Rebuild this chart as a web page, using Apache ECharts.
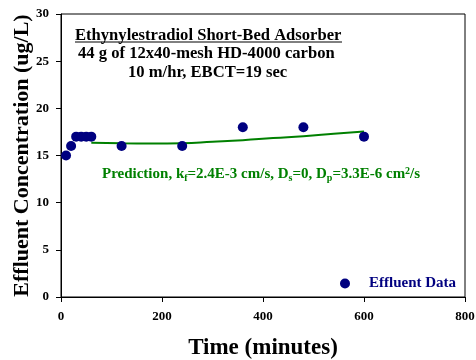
<!DOCTYPE html>
<html>
<head>
<meta charset="utf-8">
<script src="https://cdn.jsdelivr.net/npm/echarts@6/dist/echarts.min.js"></script>
<style>
  html, body { margin: 0; padding: 0; background: #fff; }
  #chart { width: 476px; height: 360px; }
</style>
</head>
<body>
<div id="chart"></div>
<script>
// 实测数据：时间(min) / 出水浓度(ug/L)
const effTime = [10, 20, 30, 40, 50, 60, 120, 240, 360, 480, 600];
const effConc = [15, 16, 17, 17, 17, 17, 16, 16, 18, 18, 17];

// 模型预测曲线
const predTime = [60, 120, 180, 240, 300, 360, 420, 480, 540, 600];
const predConc = [16.35, 16.3, 16.28, 16.3, 16.45, 16.62, 16.85, 17.05, 17.3, 17.55];

const xTicks = [0, 200, 400, 600, 800];
const yTicks = [0, 5, 10, 15, 20, 25, 30];

const FONT = 'Liberation Serif';
const NAVY = '#000080';
const GREEN = '#008000';

const chart = echarts.init(document.getElementById('chart'));

const axisCommon = {
  axisLine: { show: true, onZero: false, lineStyle: { color: '#000', width: 1 } },
  axisTick: { show: true, length: 5, lineStyle: { color: '#000' } },
  splitLine: { show: false },
  axisLabel: { color: '#000', fontFamily: FONT, fontWeight: 'bold', fontSize: 13 }
};

// 标题文字样式
const txt = (s, size, color) => ({
  text: s, fontFamily: FONT, fontWeight: 'bold', fontSize: size, fill: color || '#000'
});

chart.setOption({
  animation: false,
  grid: {
    left: 61, right: 11, top: 14, bottom: 63,
    outerBoundsMode: 'none', containLabel: false,
    show: true, borderColor: '#000', borderWidth: 1
  },
  xAxis: Object.assign({}, axisCommon, {
    type: 'value',
    min: xTicks[0], max: xTicks[xTicks.length - 1], interval: 200,
    name: 'Time (minutes)', nameLocation: 'middle', nameGap: 40,
    nameTextStyle: { color: '#000', fontFamily: FONT, fontWeight: 'bold', fontSize: 23 },
    axisLabel: Object.assign({}, axisCommon.axisLabel, { margin: 13 })
  }),
  yAxis: Object.assign({}, axisCommon, {
    type: 'value',
    min: yTicks[0], max: yTicks[yTicks.length - 1], interval: 5,
    name: 'Effluent Concentration (ug/L)', nameLocation: 'middle', nameGap: 28,
    nameMoveOverlap: false,
    nameTextStyle: { color: '#000', fontFamily: FONT, fontWeight: 'bold', fontSize: 22 },
    axisLabel: Object.assign({}, axisCommon.axisLabel, { margin: 12 })
  }),
  legend: {
    data: [{ name: 'Effluent Data', icon: 'circle' }],
    left: 340, top: 276, padding: 0, itemWidth: 10, itemHeight: 10, itemGap: 0,
    textStyle: { color: NAVY, fontFamily: FONT, fontWeight: 'bold', fontSize: 15, padding: [0, 0, 0, 14] }
  },
  series: [
    {
      name: 'Prediction', type: 'line',
      data: predTime.map((t, i) => [t, predConc[i]]),
      smooth: true, showSymbol: false,
      lineStyle: { color: GREEN, width: 2 }, itemStyle: { color: GREEN },
      z: 2
    },
    {
      name: 'Effluent Data', type: 'scatter',
      data: effTime.map((t, i) => [t, effConc[i]]),
      symbol: 'circle', symbolSize: 10,
      itemStyle: { color: NAVY, opacity: 1 },
      z: 3
    }
  ],
  graphic: [
    { type: 'text', left: 75, top: 27, style: txt('Ethynylestradiol Short-Bed Adsorber', 16.6) },
    {
      type: 'line', shape: { x1: 75, y1: 42, x2: 342, y2: 42 },
      style: { stroke: '#000', lineWidth: 1 }
    },
    { type: 'text', left: 78, top: 45, style: txt('44 g of 12x40-mesh HD-4000 carbon', 16.6) },
    { type: 'text', left: 128, top: 64, style: txt('10 m/hr, EBCT=19 sec', 16.6) },
    {
      type: 'text', left: 102, top: 166,
      style: Object.assign(txt('Prediction, k{sub|f}=2.4E-3 cm/s, D{sub|s}=0, D{sub|p}=3.3E-6 cm{sup|2}/s', 15, GREEN), {
        rich: {
          sub: { fontFamily: FONT, fontWeight: 'bold', fontSize: 10, fill: GREEN, padding: [7, 0, 0, 0] },
          sup: { fontFamily: FONT, fontWeight: 'bold', fontSize: 10, fill: GREEN, padding: [0, 0, 7, 0] }
        }
      })
    }
  ]
});
</script>
</body>
</html>
